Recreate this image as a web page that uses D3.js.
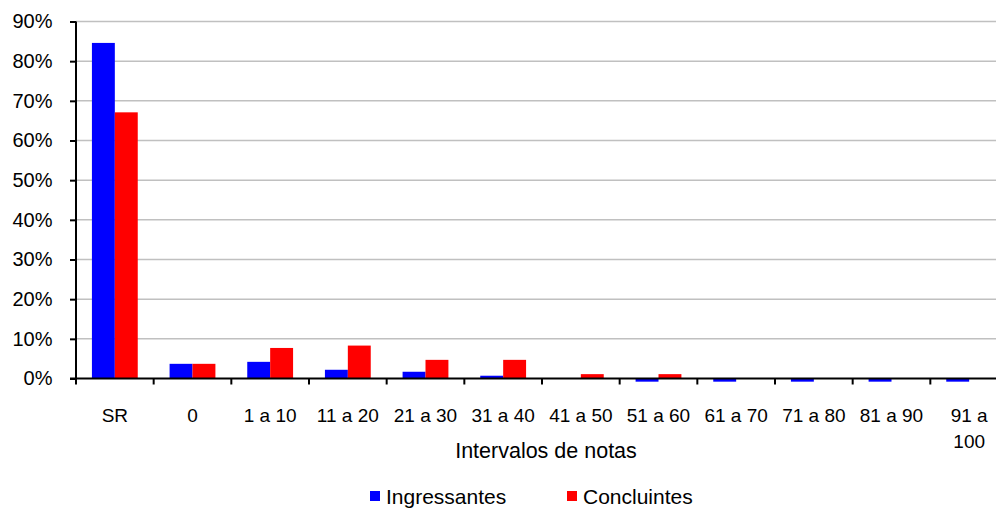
<!DOCTYPE html>
<html>
<head>
<meta charset="utf-8">
<script src="https://cdn.jsdelivr.net/npm/d3@7/dist/d3.min.js"></script>
<style>
  html, body { margin: 0; padding: 0; background: #fff; }
  svg { display: block; font-family: "Liberation Sans", Arial, sans-serif; }
</style>
</head>
<body>
<svg id="chart" width="996" height="508"></svg>
<script>
const categories = ["SR", "0", "1 a 10", "11 a 20", "21 a 30", "31 a 40", "41 a 50", "51 a 60", "61 a 70", "71 a 80", "81 a 90", "91 a 100"];
const seriesNames = ["Ingressantes", "Concluintes"];
const ingressantes = [0.846, 0.037, 0.042, 0.022, 0.017, 0.007, 0.001, -0.008, -0.008, -0.008, -0.008, -0.008];
const concluintes = [0.671, 0.037, 0.077, 0.083, 0.047, 0.047, 0.011, 0.011, 0.001, 0.001, 0.001, 0.001];
const yTicks = [0, 0.1, 0.2, 0.3, 0.4, 0.5, 0.6, 0.7, 0.8, 0.9];
const xTitle = "Intervalos de notas";
const colors = ["#0000ff", "#ff0000"];

(function () {
const svg = d3.select("#chart");
const pLeft = 76, pRight = 1008, pTop = 21.5, pBottom = 378.5;

const x0 = d3.scaleBand().domain(categories).range([pLeft, pRight]).paddingInner(0.41).paddingOuter(0.205);
const x1 = d3.scaleBand().domain(seriesNames).range([0, x0.bandwidth()]).padding(0);
const y = d3.scaleLinear().domain([0, 0.9]).range([pBottom, pTop]);

// gridlines
svg.append("g")
  .selectAll("line")
  .data(yTicks.filter(d => d > 0))
  .join("line")
  .attr("x1", pLeft).attr("x2", 996)
  .attr("y1", d => y(d)).attr("y2", d => y(d))
  .attr("stroke", "#c0c0c0").attr("stroke-width", 1.5);

// bars
const data = categories.map((c, i) => ({ cat: c, vals: [ingressantes[i], concluintes[i]] }));
const groups = svg.append("g").selectAll("g")
  .data(data).join("g")
  .attr("transform", d => `translate(${x0(d.cat)},0)`);
groups.selectAll("rect")
  .data(d => d.vals.map((v, j) => ({ name: seriesNames[j], v, j })))
  .join("rect")
  .attr("x", d => x1(d.name))
  .attr("width", x1.bandwidth())
  .attr("y", d => Math.min(y(d.v), y(0)))
  .attr("height", d => Math.abs(y(d.v) - y(0)))
  .attr("fill", d => colors[d.j]);

// y axis
const yAxis = svg.append("g")
  .attr("transform", `translate(${pLeft},0)`)
  .call(d3.axisLeft(y).tickValues(yTicks).tickFormat(d3.format(".0%")).tickSize(6).tickPadding(17.5));
yAxis.select(".domain").attr("stroke", "#000").attr("stroke-width", 2).attr("d", `M0,${pTop}V${pBottom + 6}`);
yAxis.selectAll(".tick line").attr("stroke", "#000").attr("stroke-width", 2);
yAxis.selectAll("text").attr("font-size", 20).attr("fill", "#000");

// x axis
const step = x0.step();
const boundaries = d3.range(categories.length + 1).map(i => pLeft + i * step);
const xAxisG = svg.append("g");
xAxisG.append("line")
  .attr("x1", pLeft - 6).attr("x2", 996)
  .attr("y1", y(0)).attr("y2", y(0))
  .attr("stroke", "#000").attr("stroke-width", 2);
xAxisG.selectAll("line.tk")
  .data(boundaries.slice(1))
  .join("line").attr("class", "tk")
  .attr("x1", d => d).attr("x2", d => d)
  .attr("y1", y(0)).attr("y2", y(0) + 6)
  .attr("stroke", "#000").attr("stroke-width", 2);

const labels = xAxisG.selectAll("text.cl")
  .data(categories)
  .join("text").attr("class", "cl")
  .attr("x", d => x0(d) + x0.bandwidth() / 2)
  .attr("y", 422)
  .attr("text-anchor", "middle")
  .attr("font-size", 19)
  .attr("fill", "#000")
  .text(d => d);

// wrap labels too wide for their category
labels.each(function(d) {
  const t = d3.select(this);
  if (this.getComputedTextLength() > step * 0.95) {
    const words = d.split(" ");
    const cx = +t.attr("x");
    const first = words.slice(0, 2).join(" ");
    const rest = words.slice(2).join(" ");
    t.text(null);
    t.append("tspan").attr("x", cx).attr("dy", 0).text(first);
    t.append("tspan").attr("x", cx).attr("dy", 26).text(rest);
  }
});

// x title
svg.append("text")
  .attr("x", 546).attr("y", 458)
  .attr("text-anchor", "middle")
  .attr("font-size", 21.5)
  .attr("fill", "#000")
  .text(xTitle);

// legend
const legendX = [370, 567];
const lg = svg.append("g").selectAll("g")
  .data(seriesNames).join("g")
  .attr("transform", (d, i) => `translate(${legendX[i]},0)`);
lg.append("rect").attr("x", 0).attr("y", 491).attr("width", 10).attr("height", 10)
  .attr("fill", (d, i) => colors[i]);
lg.append("text").attr("x", 16).attr("y", 503.5)
  .attr("font-size", 21).attr("fill", "#000").text(d => d);
})();
</script>
</body>
</html>
